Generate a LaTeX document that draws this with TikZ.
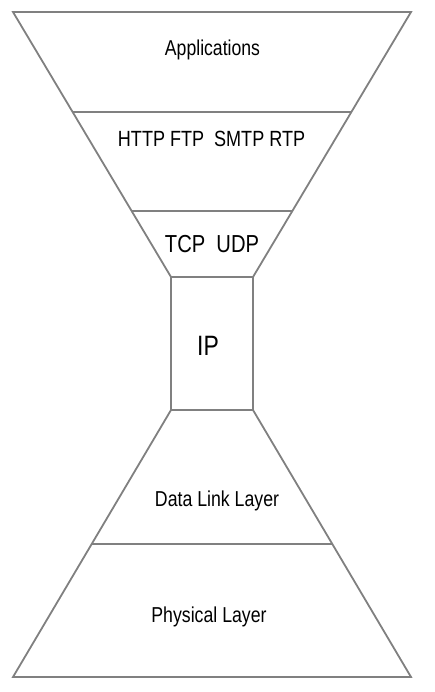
\documentclass[tikz,border=0pt]{standalone}
\usepackage{fontspec}
\newfontfamily\nar[FakeStretch=0.82]{Liberation Sans}
\usetikzlibrary{calc}
\tikzset{
  edge/.style={draw=black!50, line width=1.8pt, line join=miter},
  lbl/.style={anchor=base, inner sep=0pt, text=black}
}
\begin{document}
\begin{tikzpicture}[x=1pt,y=-1pt]
\useasboundingbox (0,0) rectangle (435,692);
% corner coordinates
\coordinate (TL) at (13,12);
\coordinate (TR) at (411,12);
\coordinate (ML) at (171,277);
\coordinate (MR) at (253,277);
\coordinate (NL) at (171,410);
\coordinate (NR) at (253,410);
\coordinate (BL) at (13,677);
\coordinate (BR) at (411,677);
% upper funnel
\draw[edge] (TL) -- (TR) -- (MR) -- (ML) -- cycle;
\draw[edge] ($(TL)!100/265!(ML)$) -- ($(TR)!100/265!(MR)$);
\draw[edge] ($(TL)!199/265!(ML)$) -- ($(TR)!199/265!(MR)$);
% IP box
\draw[edge] (ML) rectangle (NR);
% lower funnel
\draw[edge] (NL) -- (NR) -- (BR) -- (BL) -- cycle;
\draw[edge] ($(NL)!134/267!(BL)$) -- ($(NR)!134/267!(BR)$);
% labels
\node[lbl, font=\nar\fontsize{21.5}{24}\selectfont] (app) at (212.5,56) {Applications};
\node[lbl, font=\nar\fontsize{22}{25}\selectfont] (proto) at (211.5,147) {HTTP FTP\ \ SMTP RTP};
\node[lbl, font=\nar\fontsize{24.6}{28}\selectfont] (tcp) at (212,252.3) {TCP\ \ UDP};
\node[lbl, font=\nar\fontsize{28}{32}\selectfont] (ip) at (208,355) {IP};
\node[lbl, font=\nar\fontsize{21.6}{24}\selectfont] (dll) at (217,506) {Data Link Layer};
\node[lbl, font=\nar\fontsize{21.6}{24}\selectfont] (phy) at (209,622) {Physical Layer};
\end{tikzpicture}
\end{document}
